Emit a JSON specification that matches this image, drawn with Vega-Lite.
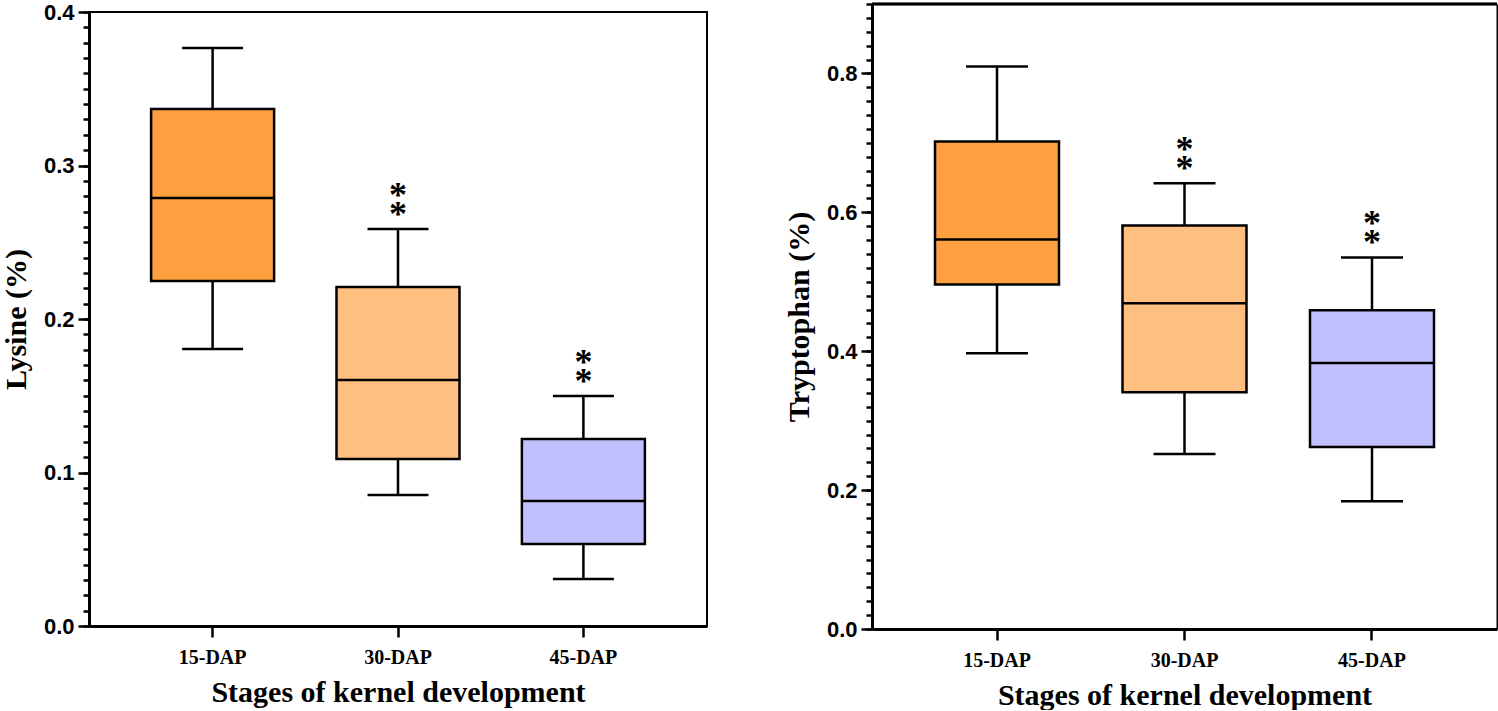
{
  "$schema": "https://vega.github.io/schema/vega-lite/v6.json",
  "padding": {"left": 0, "top": 0, "right": 0, "bottom": 0},
  "background": "white",
  "spacing": 76,
  "datasets": {
    "lysine": [
      {"stage": "15-DAP", "min": 0.1805, "q1": 0.2248, "median": 0.2788, "q3": 0.3368, "max": 0.3765, "sig": ""},
      {"stage": "30-DAP", "min": 0.0853, "q1": 0.1088, "median": 0.1603, "q3": 0.2208, "max": 0.2586, "sig": "**"},
      {"stage": "45-DAP", "min": 0.0306, "q1": 0.0534, "median": 0.0814, "q3": 0.1218, "max": 0.1498, "sig": "**"}
    ],
    "tryptophan": [
      {"stage": "15-DAP", "min": 0.397, "q1": 0.496, "median": 0.561, "q3": 0.702, "max": 0.810, "sig": ""},
      {"stage": "30-DAP", "min": 0.252, "q1": 0.341, "median": 0.469, "q3": 0.581, "max": 0.642, "sig": "**"},
      {"stage": "45-DAP", "min": 0.184, "q1": 0.262, "median": 0.383, "q3": 0.459, "max": 0.535, "sig": "**"}
    ]
  },
  "config": {
    "view": {"stroke": "black", "strokeWidth": 2},
    "tick": {"opacity": 1},
    "axis": {
      "grid": false,
      "domainColor": "black",
      "domainWidth": 3,
      "tickColor": "black",
      "tickWidth": 2.5,
      "labelColor": "black",
      "labelOverlap": false,
      "titleColor": "black",
      "titleFont": "Liberation Serif",
      "titleFontWeight": "bold",
      "titleFontSize": 30
    },
    "axisX": {
      "labelFont": "Liberation Serif",
      "labelFontWeight": "bold",
      "labelFontSize": 20,
      "labelAngle": 0,
      "tickSize": 11,
      "labelPadding": 10,
      "titlePadding": 10,
      "titleFontSize": 30
    },
    "axisY": {
      "labelFont": "Liberation Sans",
      "labelFontWeight": "bold",
      "labelFontSize": 22,
      "labelPadding": 4,
      "titlePadding": 12
    }
  },
  "hconcat": [
    {
      "width": 618,
      "height": 614,
      "data": {"name": "lysine"},
      "resolve": {"axis": {"y": "independent"}},
      "encoding": {
        "x": {
          "field": "stage", "type": "nominal", "sort": ["15-DAP", "30-DAP", "45-DAP"],
          "scale": {"type": "band", "paddingInner": 0, "paddingOuter": 0.1667},
          "axis": {"title": "Stages of kernel development"}
        }
      },
      "layer": [
        {
          "mark": {"type": "rule", "color": "black", "strokeWidth": 2.5},
          "encoding": {
            "y": {"field": "min", "type": "quantitative", "scale": {"domain": [0, 0.4], "nice": false, "zero": true},
              "axis": {"orient": "left", "title": "Lysine (%)", "values": [0, 0.1, 0.2, 0.3, 0.4], "format": ".1f", "tickSize": 11}},
            "y2": {"field": "max"}
          }
        },
        {
          "mark": {"type": "tick", "color": "black", "thickness": 2.5, "size": 61},
          "encoding": {"y": {"field": "min", "type": "quantitative",
            "axis": {"orient": "left", "title": null, "labels": false, "domain": false, "tickSize": 6,
              "values": [0,0.01,0.02,0.03,0.04,0.05,0.06,0.07,0.08,0.09,0.1,0.11,0.12,0.13,0.14,0.15,0.16,0.17,0.18,0.19,0.2,0.21,0.22,0.23,0.24,0.25,0.26,0.27,0.28,0.29,0.3,0.31,0.32,0.33,0.34,0.35,0.36,0.37,0.38,0.39,0.4]}}}
        },
        {
          "mark": {"type": "tick", "color": "black", "thickness": 2.5, "size": 61},
          "encoding": {"y": {"field": "max", "type": "quantitative", "axis": null}}
        },
        {
          "mark": {"type": "bar", "size": 123, "stroke": "black", "strokeWidth": 2.5},
          "encoding": {
            "y": {"field": "q1", "type": "quantitative", "axis": null},
            "y2": {"field": "q3"},
            "color": {"field": "stage", "type": "nominal", "scale": {"domain": ["15-DAP", "30-DAP", "45-DAP"], "range": ["#FFA040", "#FFBF80", "#C0C0FF"]}, "legend": null}
          }
        },
        {
          "mark": {"type": "tick", "color": "black", "thickness": 2.5, "size": 122},
          "encoding": {"y": {"field": "median", "type": "quantitative", "axis": null}}
        },
        {
          "transform": [{"filter": "datum.sig == '**'"}],
          "mark": {"type": "text", "text": ["*", "*"], "lineHeight": 19, "font": "Liberation Serif", "fontWeight": "bold", "fontSize": 36, "baseline": "alphabetic", "dy": -22, "color": "black"},
          "encoding": {"y": {"field": "max", "type": "quantitative", "axis": null}}
        }
      ]
    },
    {
      "width": 625,
      "height": 617,
      "view": {"stroke": null},
      "data": {"name": "tryptophan"},
      "resolve": {"axis": {"y": "independent"}},
      "layer": [
        {
          "mark": {"type": "rule", "color": "black", "strokeWidth": 2.5},
          "encoding": {
            "x": {
              "field": "stage", "type": "nominal", "sort": ["15-DAP", "30-DAP", "45-DAP"],
              "scale": {"type": "band", "paddingInner": 0, "paddingOuter": 0.1667},
              "axis": {"title": "Stages of kernel development"}
            },
            "y": {"field": "min", "type": "quantitative", "scale": {"domain": [0, 0.9], "range": [617, -8], "nice": false, "zero": true},
              "axis": {"orient": "left", "title": "Tryptophan (%)", "values": [0, 0.2, 0.4, 0.6, 0.8], "format": ".1f", "tickSize": 11}},
            "y2": {"field": "max"}
          }
        },
        {
          "mark": {"type": "tick", "color": "black", "thickness": 2.5, "size": 62},
          "encoding": {
            "x": {"field": "stage", "type": "nominal", "sort": ["15-DAP", "30-DAP", "45-DAP"]},
            "y": {"field": "min", "type": "quantitative",
            "axis": {"orient": "left", "title": null, "labels": false, "domain": false, "tickSize": 6,
              "values": [0,0.02,0.04,0.06,0.08,0.1,0.12,0.14,0.16,0.18,0.2,0.22,0.24,0.26,0.28,0.3,0.32,0.34,0.36,0.38,0.4,0.42,0.44,0.46,0.48,0.5,0.52,0.54,0.56,0.58,0.6,0.62,0.64,0.66,0.68,0.7,0.72,0.74,0.76,0.78,0.8,0.82,0.84,0.86,0.88,0.9]}}}
        },
        {
          "mark": {"type": "tick", "color": "black", "thickness": 2.5, "size": 62},
          "encoding": {
            "x": {"field": "stage", "type": "nominal", "sort": ["15-DAP", "30-DAP", "45-DAP"]},
            "y": {"field": "max", "type": "quantitative",
              "axis": {"orient": "right", "title": null, "labels": false, "ticks": false, "domainWidth": 2}}}
        },
        {
          "mark": {"type": "bar", "size": 124, "stroke": "black", "strokeWidth": 2.5},
          "encoding": {
            "x": {"field": "stage", "type": "nominal", "sort": ["15-DAP", "30-DAP", "45-DAP"]},
            "y": {"field": "q1", "type": "quantitative", "axis": null},
            "y2": {"field": "q3"},
            "color": {"field": "stage", "type": "nominal", "scale": {"domain": ["15-DAP", "30-DAP", "45-DAP"], "range": ["#FFA040", "#FFBF80", "#C0C0FF"]}, "legend": null}
          }
        },
        {
          "mark": {"type": "tick", "color": "black", "thickness": 2.5, "size": 123},
          "encoding": {
            "x": {"field": "stage", "type": "nominal", "sort": ["15-DAP", "30-DAP", "45-DAP"]},
            "y": {"field": "median", "type": "quantitative", "axis": null}}
        },
        {
          "transform": [{"filter": "datum.sig == '**'"}],
          "mark": {"type": "text", "text": ["*", "*"], "lineHeight": 19, "font": "Liberation Serif", "fontWeight": "bold", "fontSize": 36, "baseline": "alphabetic", "dy": -22, "color": "black"},
          "encoding": {
            "x": {"field": "stage", "type": "nominal", "sort": ["15-DAP", "30-DAP", "45-DAP"]},
            "y": {"field": "max", "type": "quantitative", "axis": null}}
        },
        {
          "mark": {"type": "rule", "color": "black", "strokeWidth": 2.5},
          "encoding": {"y": {"datum": 0.9, "type": "quantitative", "axis": null}}
        }
      ]
    }
  ]
}
